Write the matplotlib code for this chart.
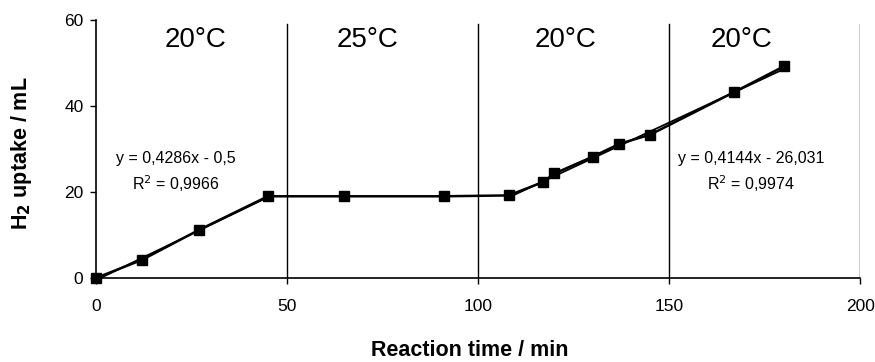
import numpy as np
import matplotlib
matplotlib.use("Agg")
import matplotlib.pyplot as plt

plt.rcParams['font.family'] = ['Liberation Sans', 'DejaVu Sans']

# Measured H2 uptake
time_min = [0, 12, 27, 45, 65, 91, 108, 117, 120, 130, 137, 145, 167, 180]
uptake_ml = [0, 4.2, 11.2, 19, 19, 19, 19.2, 22.3, 24.3, 28.2, 31.2, 33.3, 43.2, 49.2]

# Linear trendlines (slope, intercept, fit range)
fit1 = (0.4286, -0.5, 0, 45)
fit2 = (0.4144, -26.031, 108, 180)
fit_labels = [("y = 0,4286x - 0,5\nR$^2$ = 0,9966", 21, 24.6),
              ("y = 0,4144x - 26,031\nR$^2$ = 0,9974", 171.5, 24.6)]

# Temperature phases
phase_bounds = [50, 100, 150, 200]
phase_labels = ["20°C", "25°C", "20°C", "20°C"]
phase_centers = [26, 71, 123, 169]

fig = plt.figure(figsize=(8.75, 3.62), dpi=100)
ax = fig.add_axes([0.1097, 0.232, 0.8733, 0.713])

for xb in phase_bounds:
    ax.plot([xb, xb], [0, 59.1], color='black', lw=1.0, zorder=1)

for slope, icpt, x0, x1 in (fit1, fit2):
    xs = np.array([x0, x1])
    ax.plot(xs, slope * xs + icpt, color='black', lw=1.3, zorder=2)

ax.plot(time_min, uptake_ml, color='black', lw=1.8, marker='s',
        markersize=7.5, zorder=3, clip_on=False)

for label, xc in zip(phase_labels, phase_centers):
    ax.text(xc, 55.3, label, ha='center', va='center', fontsize=20)

for txt, xc, yc in fit_labels:
    ax.text(xc, yc, txt, ha='center', va='center', fontsize=11.5,
            linespacing=1.45)

ax.set_xlim(0, 200)
ax.set_ylim(0, 60)
ax.set_xticks([0, 50, 100, 150, 200])
ax.set_yticks([0, 20, 40, 60])
ax.tick_params(direction='out', length=4, width=1, labelsize=12.5)
ax.tick_params(axis='x', pad=11)
ax.tick_params(axis='y', pad=5)
for s in ['top', 'right']:
    ax.spines[s].set_visible(False)
for s in ['left', 'bottom']:
    ax.spines[s].set_linewidth(1.2)

fig.text(470 / 875, 1 - 350 / 362, "Reaction time / min", fontsize=15.5,
         fontweight='bold', ha='center', va='center')
fig.text(22 / 875, 1 - 153 / 362, "H$_\\mathbf{2}$ uptake / mL", fontsize=15.5,
         fontweight='bold', ha='center', va='center', rotation=90)

fig.savefig("out.png", dpi=100)
